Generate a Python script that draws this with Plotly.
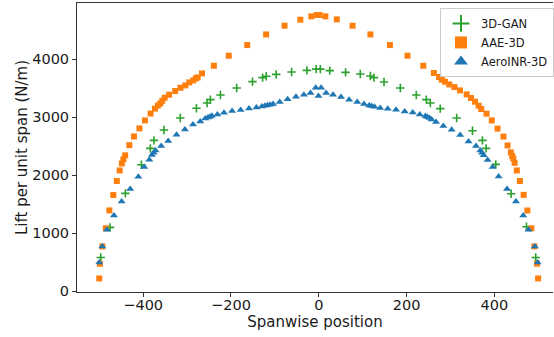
import plotly.graph_objects as go

# Spanwise lift distributions for the three generative models
gan_x = [-496.6, -475.5, -440.5, -404, -383.7, -375.5, -352.7, -315.5, -278.7, -254.5,
         -247, -224, -187, -151, -128, -119.7, -97, -62, -27, -6, 3.5, 25, 61, 94.5,
         117.5, 125.5, 148.6, 185.7, 222, 245, 254, 276.6, 314, 350, 372.7, 381, 403,
         438, 473, 494]
gan_y = [579, 1097, 1683, 2178, 2460, 2597, 2776, 2983, 3150, 3241,
         3300, 3379, 3500, 3610, 3679, 3702, 3736, 3776, 3805, 3825, 3825, 3800, 3770, 3741,
         3707, 3679, 3603, 3500, 3379, 3300, 3241, 3145, 2983, 2764, 2598, 2460, 2184,
         1678, 1109, 579]

aae_x = [-500, -498.6, -493, -485, -477, -468, -460, -453.5, -448.5, -445, -441, -431.5,
         -421, -408.5, -396, -383, -373, -366.5, -361, -356.5, -351, -341, -327, -315,
         -304, -295, -286, -280, -276, -266, -239, -205, -163, -120, -78, -42, -17, -4.5,
         1.6, 15, 41, 77, 117.6, 162, 202, 238, 262, 274, 280, 287.5, 297, 308.8, 321.6,
         336.8, 346.7, 355.8, 364, 370, 382, 394, 407, 420.5, 430, 437.5, 440.5, 443,
         446, 451, 458, 466.5, 475, 484, 491, 497, 499.5]
aae_y = [217, 470, 769, 1082, 1390, 1655, 1897, 2079, 2200, 2270, 2340, 2515,
         2665, 2804, 2941, 3060, 3145, 3197, 3233, 3280, 3333, 3384, 3448, 3505,
         3545, 3597, 3631, 3666, 3683, 3752, 3884, 4057, 4241, 4424, 4574, 4678, 4736, 4759,
         4759, 4736, 4684, 4574, 4424, 4241, 4057, 3884, 3759, 3690, 3643, 3609, 3562, 3517, 3459,
         3390, 3328, 3264, 3195, 3138, 3057, 2941, 2800, 2663, 2510, 2390, 2328, 2285,
         2210, 2079, 1897, 1658, 1388, 1082, 769, 471, 217]

inr_x = [-500, -493, -482.5, -466.6, -449, -429.5, -411, -397.7, -386, -380, -376, -372,
         -359, -343, -324, -305, -286.5, -270, -258.5, -252.5, -248, -243.5, -231, -216,
         -197.5, -178, -159, -142, -129.7, -122.5, -116.6, -111, -104, -89, -71, -52, -34,
         -19, -7, -0.7, 5.4, 16.7, 32.5, 50.5, 69, 87.5, 103, 114.7, 120, 126.7, 139.7,
         157, 176, 195.7, 214, 230, 242.7, 247, 251.9, 257, 267, 283.6, 302.6, 322, 341,
         358, 368, 371.8, 375.5, 384.5, 396, 409.6, 428.7, 449, 465.7, 477.8, 492, 498.4]
inr_y = [493, 769, 1057, 1303, 1545, 1759, 1971, 2138, 2264, 2345, 2384, 2424,
         2500, 2586, 2695, 2786, 2872, 2924, 2976, 2993, 3005, 3022, 3045, 3074,
         3103, 3121, 3145, 3166, 3183, 3195, 3204, 3212, 3224, 3259, 3305, 3351, 3386,
         3414, 3506, 3362, 3506, 3414, 3386, 3347, 3299, 3259, 3224, 3200, 3190, 3179, 3157,
         3143, 3126, 3097, 3080, 3045, 3017, 3000, 2983, 2959, 2914, 2845, 2781, 2690, 2579,
         2500, 2422, 2383, 2343, 2259, 2138, 1976, 1759, 1545, 1303, 1057, 769, 493]

x_ticks = [-400, -200, 0, 200, 400]
y_ticks = [0, 1000, 2000, 3000, 4000]

GREEN = "#2ca02c"
ORANGE = "#ff7f0e"
BLUE = "#1f77b4"
FONT = "DejaVu Sans"
TEXT = "#1a1a1a"

fig = go.Figure()
fig.add_trace(go.Scatter(
    x=gan_x, y=gan_y, mode="markers", name="3D-GAN",
    marker=dict(symbol="cross-thin", size=6, color=GREEN,
                line=dict(color=GREEN, width=1.6)),
))
fig.add_trace(go.Scatter(
    x=aae_x, y=aae_y, mode="markers", name="AAE-3D",
    marker=dict(symbol="square", size=6, color=ORANGE, line=dict(width=0)),
))
fig.add_trace(go.Scatter(
    x=inr_x, y=inr_y, mode="markers", name="AeroINR-3D",
    marker=dict(symbol="triangle-up", size=7, color=BLUE, line=dict(width=0)),
))

axis_common = dict(
    showgrid=False, zeroline=False, showline=True, linecolor="#333333", linewidth=1,
    ticks="outside", ticklen=4, tickwidth=1, tickcolor="#333333",
    tickfont=dict(family=FONT, size=14.5, color=TEXT),
    automargin=False,
)

fig.update_layout(
    width=554, height=337,
    margin=dict(l=77, r=0, t=3, b=45),
    paper_bgcolor="white", plot_bgcolor="white",
    font=dict(family=FONT, color=TEXT),
    xaxis=dict(
        range=[-550.7, 533.4], tickvals=x_ticks, mirror=True,
        ticklabelstandoff=-4,
        title=dict(text="Spanwise position", font=dict(family=FONT, size=15, color=TEXT),
                   standoff=1),
        **axis_common,
    ),
    yaxis=dict(
        range=[-17, 4966], tickvals=y_ticks,
        title=dict(text="Lift per unit span (N/m)", font=dict(family=FONT, size=15, color=TEXT),
                   standoff=0),
        **axis_common,
    ),
    legend=dict(
        x=0.763, y=0.983, xanchor="left", yanchor="top",
        bgcolor="rgba(255,255,255,0.8)", bordercolor="#cccccc", borderwidth=1,
        font=dict(family=FONT, size=11.5, color=TEXT),
        itemsizing="constant", tracegroupgap=0,
    ),
    showlegend=True,
)

fig.write_html("out.html")
